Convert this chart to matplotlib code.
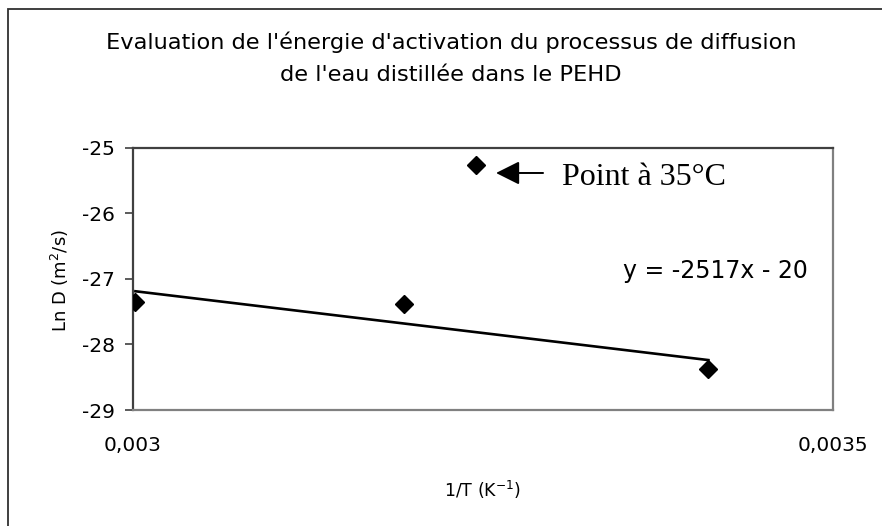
# -*- coding: utf-8 -*-
import numpy as np
import matplotlib.pyplot as plt
from matplotlib.ticker import FuncFormatter

plt.rcParams['font.family'] = ['DejaVu Sans']
plt.rcParams['axes.unicode_minus'] = False

# données : 1/T (K^-1) et ln D (m2/s) pour 60, 40, 35 et 20 °C
inv_T = [0.0030017, 0.0031934, 0.0032452, 0.0034110]
ln_D = [-27.35, -27.38, -25.27, -28.38]
in_fit = [True, True, False, True]   # le point à 35°C est écarté de la droite

x_ticks = [0.003, 0.0035]
y_ticks = [-25, -26, -27, -28, -29]

title = ("Evaluation de l'énergie d'activation du processus de diffusion\n"
         "de l'eau distillée dans le PEHD")
equation = "y = -2517x - 20"

x = np.array(inv_T)
y = np.array(ln_D)
m = np.array(in_fit)
slope, inter = np.polyfit(x[m], y[m], 1)
xf = np.array([x[m].min(), x[m].max()])

fig = plt.figure(figsize=(8.82, 5.26), dpi=100)
ax = fig.add_axes([133 / 882, 116 / 526, 700 / 882, 262.4 / 526])

# cadre du graphique
fig.add_artist(plt.Rectangle((8 / 882, -0.2), 1.2, 1.2 - 9 / 526,
                             transform=fig.transFigure, fill=False,
                             edgecolor='#303030', lw=1.3))

ax.plot(xf, slope * xf + inter, color='black', lw=1.9, zorder=2)
ax.plot(x, y, 'D', color='black', ms=9.5, zorder=3)

ax.set_xlim(0.003, 0.0035)
ax.set_ylim(-29, -25)
ax.set_xticks(x_ticks)
ax.set_yticks(y_ticks)
ax.xaxis.set_major_formatter(FuncFormatter(lambda v, p: f"{v:g}".replace('.', ',')))
ax.tick_params(axis='x', length=0, pad=19, labelsize=14.5)
ax.tick_params(axis='y', length=6, width=1.2, pad=7, labelsize=14.5,
               color='#404040')

for side in ['top', 'left']:
    ax.spines[side].set_color('#404040')
for side in ['bottom', 'right']:
    ax.spines[side].set_color('#808080')
for s in ax.spines.values():
    s.set_linewidth(1.6)

ax.set_xlabel("1/T (K$^{-1}$)", fontsize=12.5, va='center')
ax.xaxis.set_label_coords(0.5, -0.305)
ax.set_ylabel("Ln D (m$^2$/s)", fontsize=13, va='center')
ax.yaxis.set_label_coords(-0.104, 0.495)

fig.text(451 / 882, 1 - 58.5 / 526, title, ha='center', va='center',
         fontsize=16.2, linespacing=1.75)

ax.text(0.00335, -26.88, equation, ha='left', va='center', fontsize=17)

ax.annotate('', xy=(0.0032593, -25.387), xytext=(0.0032929, -25.387),
            arrowprops=dict(arrowstyle='-|>', mutation_scale=36, lw=1.4,
                            color='black', shrinkA=0, shrinkB=0))
ax.text(0.0033064, -25.45, "Point à 35°C", ha='left', va='center',
        fontsize=23, family=['Liberation Serif', 'DejaVu Serif'])

fig.savefig('out.png', dpi=100)
